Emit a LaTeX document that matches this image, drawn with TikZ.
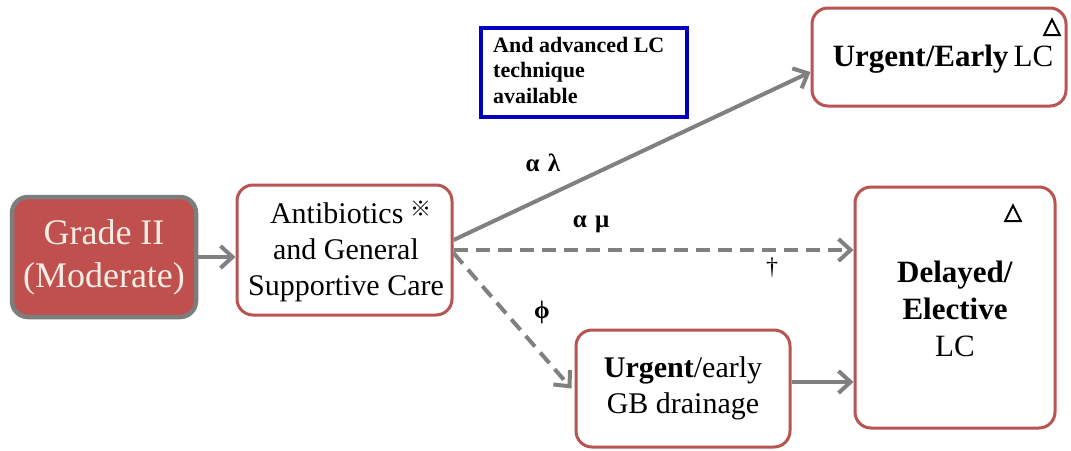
\documentclass[tikz,border=0pt]{standalone}
\usepackage{fontspec}
\setmainfont{Liberation Serif}
\newfontfamily\trifont[FakeBold=3.5]{DejaVu Sans}
\newfontfamily\cjkfont{Noto Sans CJK JP}
\usetikzlibrary{arrows.meta,calc}
\definecolor{boxred}{RGB}{184,84,82}
\definecolor{gradefill}{RGB}{192,80,77}
\definecolor{gradeborder}{RGB}{125,125,125}
\definecolor{arrowgray}{RGB}{128,128,128}
\definecolor{bluebox}{RGB}{0,0,190}
\definecolor{cream}{RGB}{245,236,228}
\tikzset{
  redbox/.style={draw=boxred, line width=3pt, rounded corners=16pt, fill=white, align=center, inner sep=0pt, font=\fontsize{30}{36}\selectfont},
  gradebox/.style={draw=gradeborder, line width=4.5pt, rounded corners=16pt, fill=gradefill, text=cream, align=center, inner sep=0pt, font=\fontsize{36}{43}\selectfont},
  bluerect/.style={draw=bluebox, line width=3.5pt, fill=white, inner sep=0pt},
  conn/.style={draw=arrowgray, line width=4pt, -{Straight Barb[length=12pt,width=22pt,line width=4pt]}},
  dashconn/.style={conn, dash pattern=on 14pt off 8pt},
  lbl/.style={font=\fontsize{25}{28}\selectfont\bfseries, inner sep=0pt},
  tri/.style={font=\trifont\fontsize{23}{24}\selectfont, inner sep=0pt}
}
\begin{document}
\begin{tikzpicture}[x=1pt,y=-1pt]
\useasboundingbox[fill=white] (0,0) rectangle (1071,450);
% nodes
\node[gradebox, minimum width=184pt, minimum height=120pt] (grade) at (104,257) {Grade II\\(Moderate)};
\node[redbox, minimum width=215pt, minimum height=130pt] (anti) at (344.5,250) {};
\node[font=\fontsize{30}{36}\selectfont, align=center, inner sep=0pt] (antitxt) at (346,251) {\,\,Antibiotics {\cjkfont\bfseries\fontsize{21}{21}\selectfont\raisebox{7pt}{※}}\\and General\\Supportive Care};
\node[bluerect, minimum width=206pt, minimum height=89pt] (blue) at (584,72.5) {};
\node[font=\fontsize{22}{25.5}\selectfont\bfseries, align=left, inner sep=0pt, anchor=north west] (bluetxt) at (493,37) {And advanced LC\\technique\\available};
\node[redbox, minimum width=254pt, minimum height=98pt] (ue) at (939,57) {};
\node[font=\fontsize{31}{36}\selectfont, inner sep=0pt] (uetxt) at (943,59) {\textbf{Urgent/Early}\,LC};
\node[tri] (tri1) at (1052,27) {△};
\node[redbox, minimum width=200pt, minimum height=241pt] (del) at (955,307.5) {};
\node[font=\fontsize{31}{37}\selectfont, align=center, inner sep=0pt] (deltxt) at (955,309) {\textbf{Delayed/}\\\textbf{Elective}\\LC};
\node[tri] (tri2) at (1013,213) {△};
\node[redbox, minimum width=214pt, minimum height=117pt] (gb) at (683,388.5) {\textbf{Urgent}/early\\GB drainage};
% connectors
\draw[conn] (grade.east) -- (grade.east -| anti.west);
\draw[conn] ([yshift=10pt]anti.east) -- ([yshift=-15pt]ue.west);
\draw[dashconn] (anti.east) -- ([yshift=57.5pt]del.west);
\draw[dashconn] ([yshift=-3pt]anti.east) -- ([xshift=-3pt]gb.west);
\draw[conn] ([yshift=6.5pt]gb.east) -- ([yshift=6.5pt]gb.east -| del.west);
% labels
\node[lbl] (l1) at (543,163) {α\,\,λ};
\node[lbl] (l2) at (591,224) {α\,\,μ};
\node[font=\fontsize{24}{26}\selectfont, inner sep=0pt] (l3) at (772,268) {†};
\node[lbl] (l4) at (542,312) {ϕ};
\end{tikzpicture}
\end{document}
